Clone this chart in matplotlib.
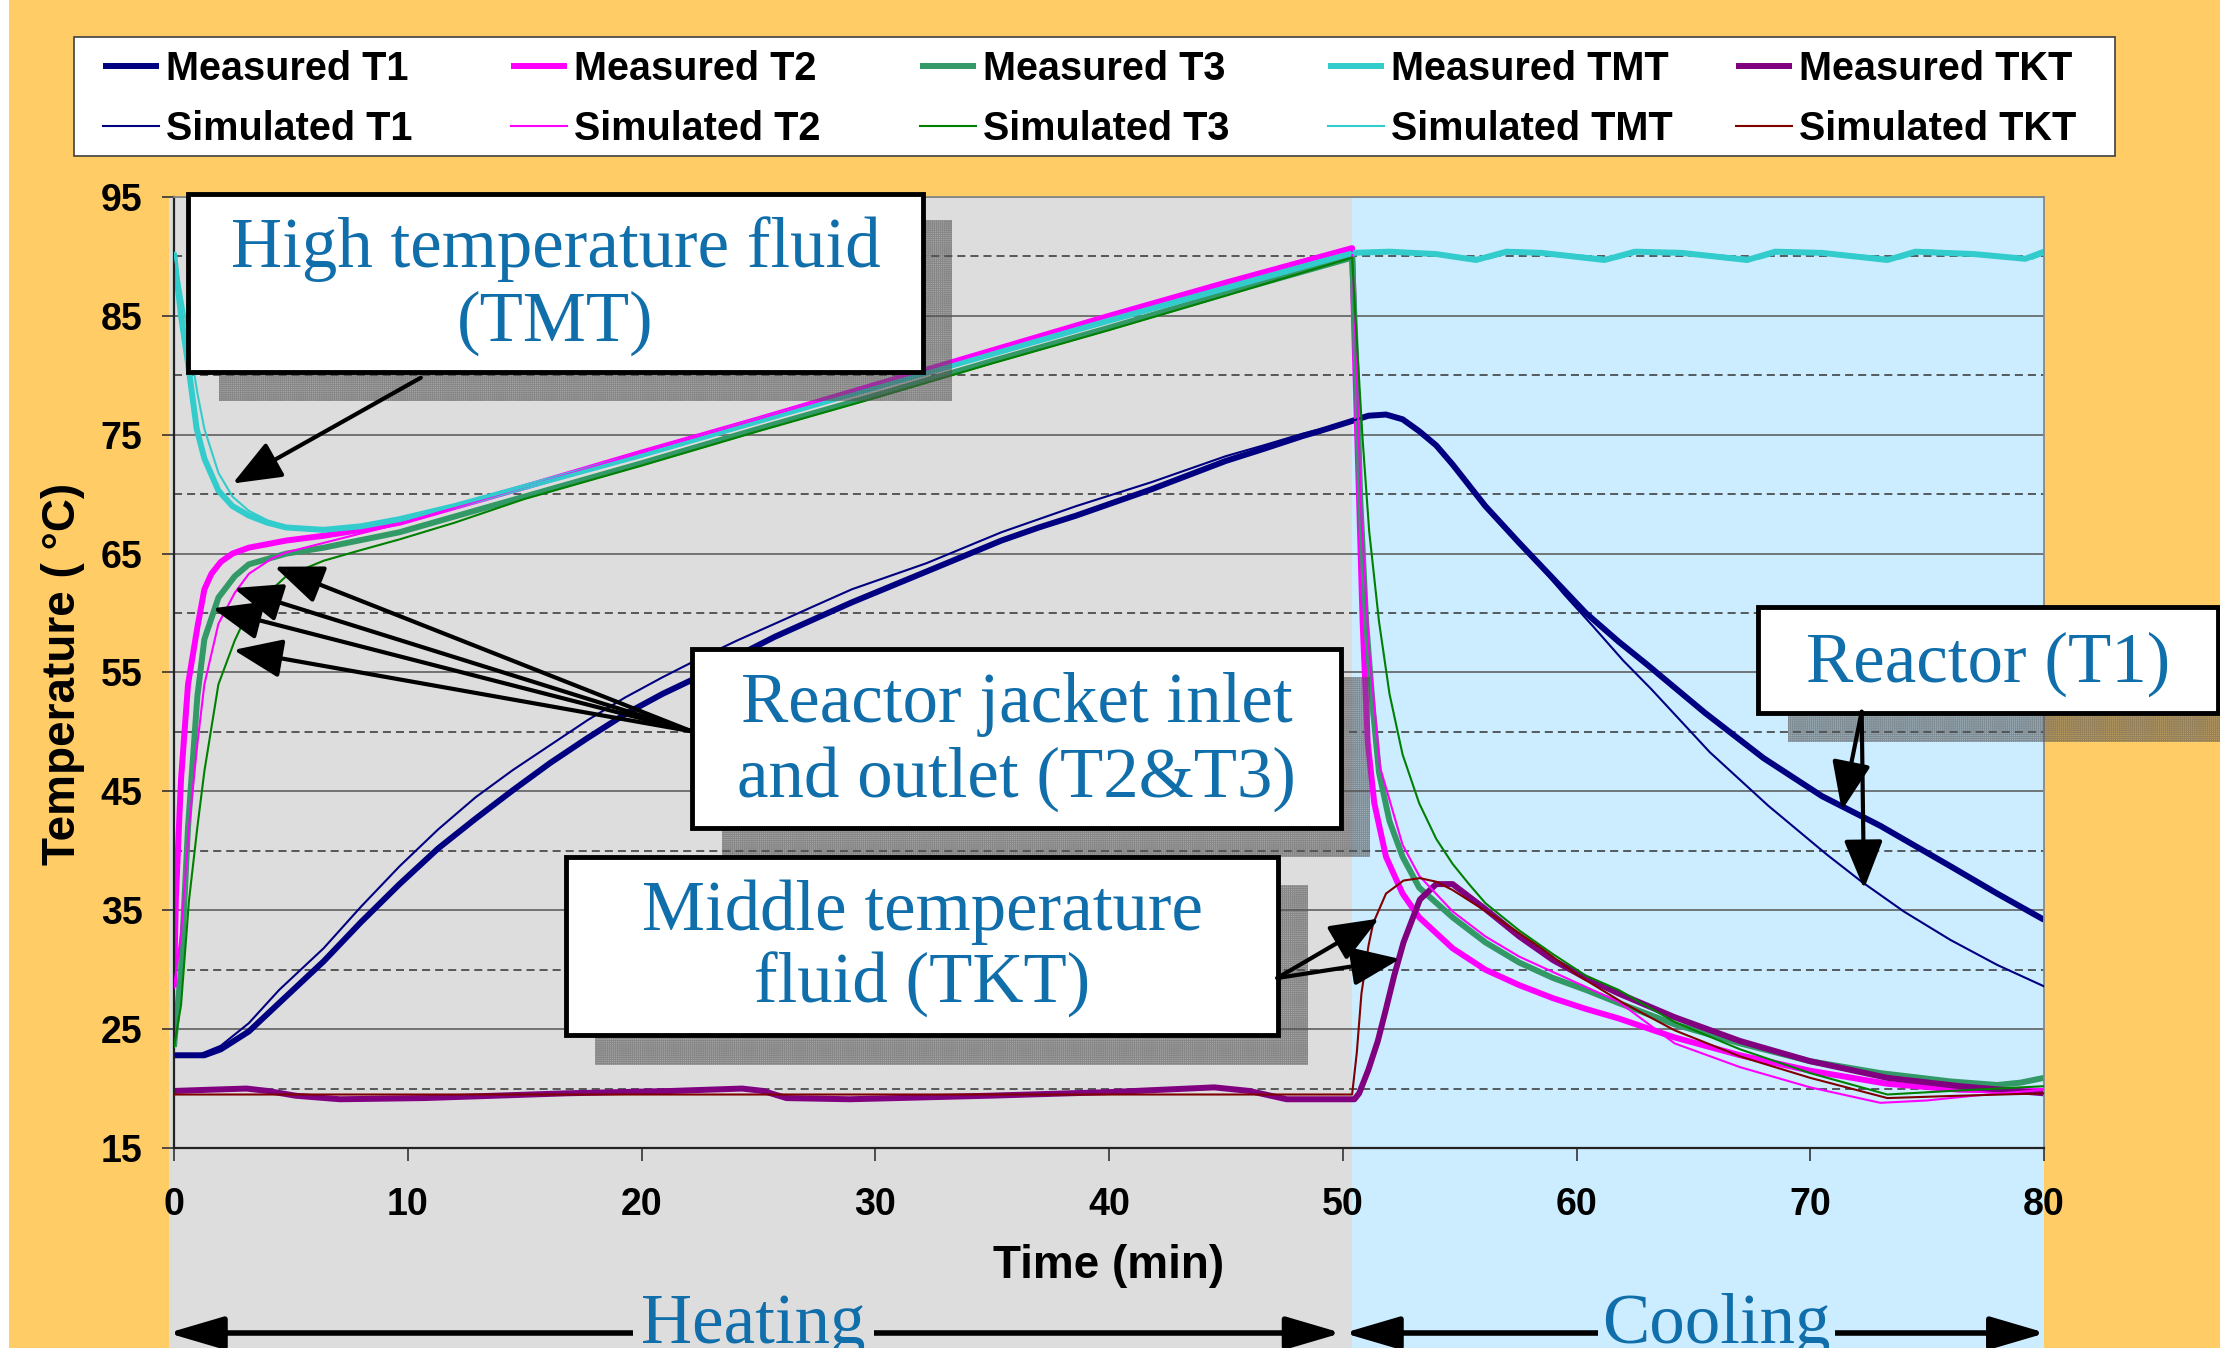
import matplotlib
matplotlib.use("Agg")
import matplotlib.pyplot as plt
from matplotlib.patches import Rectangle, ArrowStyle
from matplotlib.transforms import blended_transform_factory
from matplotlib.font_manager import FontProperties
from matplotlib.ticker import MultipleLocator, FixedLocator

plt.rcParams['font.family'] = ['Liberation Sans', 'DejaVu Sans']
plt.rcParams['font.weight'] = 'bold'
plt.rcParams['lines.scale_dashes'] = False
plt.rcParams['hatch.linewidth'] = 0.6

# ---------------- data ----------------
t1_meas_t = [0, 1.3, 2.0, 3.2, 4.5, 6.4, 8.0, 9.65, 11.3, 12.9, 14.5, 16.1, 17.7, 19.3, 20.9, 22.5,
             24.1, 25.7, 27.4, 29.0, 30.6, 32.2, 33.8, 35.4, 37.0, 38.6, 40.2, 41.8, 43.4, 45.0, 46.6,
             48.3, 49.0, 50.3, 51.1, 51.85, 52.56, 53.27, 54.0, 54.7, 56.1, 57.55, 59.0, 60.4, 61.8,
             63.0, 65.5, 68.0, 70.5, 73.0, 76.0, 78.0, 80.0]
t1_meas_v = [22.8, 22.8, 23.3, 24.8, 27.2, 30.7, 34.0, 37.2, 40.2, 42.7, 45.1, 47.4, 49.5, 51.5, 53.2, 54.7,
             56.4, 58.0, 59.5, 60.9, 62.2, 63.5, 64.8, 66.1, 67.2, 68.2, 69.3, 70.4, 71.6, 72.8, 73.8,
             74.9, 75.3, 76.1, 76.6, 76.7, 76.3, 75.3, 74.1, 72.5, 69.0, 65.9, 62.9, 60.0, 57.6,
             55.7, 51.6, 47.8, 44.6, 42.1, 38.7, 36.4, 34.2]

t1_sim_t = [0, 1.0, 2.0, 3.2, 4.5, 6.4, 8.0, 9.65, 11.3, 12.9, 14.5, 16.1, 17.7, 19.3, 20.9, 22.5, 24.1,
            25.7, 27.4, 29.0, 30.6, 32.2, 33.8, 35.4, 37.0, 38.6, 40.2, 41.8, 43.4, 45.0, 46.6, 48.3,
            50.3, 51.1, 51.85, 52.56, 53.27, 54.0, 54.7, 56.1, 57.55, 58.5, 59.5, 60.7, 62.0, 63.2,
            65.7, 68.2, 70.7, 72.2, 74.0, 76.0, 78.0, 80.0]
t1_sim_v = [22.8, 22.8, 23.6, 25.5, 28.3, 31.8, 35.3, 38.7, 41.8, 44.5, 46.8, 48.9, 51.0, 52.9, 54.6, 56.2,
            57.7, 59.1, 60.6, 62.0, 63.1, 64.2, 65.5, 66.8, 67.9, 69.0, 70.0, 71.0, 72.1, 73.2, 74.1,
            75.1, 76.1, 76.6, 76.7, 76.3, 75.3, 74.1, 72.5, 69.0, 65.9, 63.8, 61.5, 58.9, 56.0, 53.6,
            48.3, 43.8, 39.7, 37.4, 34.9, 32.5, 30.4, 28.6]

t2_meas_t = [0, 0.08, 0.3, 0.6, 1.0, 1.3, 1.6, 2.0, 2.5, 3.2, 4.8, 6.4, 8.0, 9.65, 15, 20, 25, 30, 35,
             40, 45, 50.4, 50.55, 50.7, 50.85, 51.07, 51.35, 51.85, 52.56, 53.27, 54.7, 56.1, 57.55,
             59.0, 60.4, 61.8, 64.2, 67.0, 70.0, 73.3, 76.4, 80.0]
t2_meas_v = [28.5, 36.0, 46.0, 54.0, 58.8, 62.0, 63.3, 64.3, 65.0, 65.5, 66.1, 66.5, 67.0, 67.6, 70.6,
             73.5, 76.3, 79.2, 82.1, 85.0, 87.8, 90.7, 79.7, 69.5, 59.3, 49.1, 44.0, 39.5, 36.4, 34.4,
             31.8, 30.0, 28.7, 27.6, 26.7, 25.9, 24.3, 22.8, 21.5, 20.4, 19.9, 19.8]

t2_sim_t = [0, 0.3, 0.64, 1.0, 1.3, 1.9, 2.6, 3.2, 4.2, 4.8, 6.4, 8.0, 9.65, 15, 20, 25, 30, 35, 40, 45,
            50.4, 50.6, 50.8, 51.13, 51.6, 52.56, 53.27, 54.7, 56.1, 57.55, 59.0, 61.8, 64.2, 67.0,
            70.0, 73.0, 75.0, 77.0, 80.0]
t2_sim_v = [28.5, 33.0, 42.0, 49.0, 54.0, 59.1, 61.7, 63.3, 64.6, 65.1, 65.9, 66.7, 67.5, 70.6, 73.5,
            76.3, 79.2, 82.1, 85.0, 87.8, 90.6, 80.0, 68.0, 56.8, 47.0, 40.5, 37.9, 34.9, 32.8, 31.1,
            29.8, 27.3, 23.8, 21.8, 20.1, 18.8, 19.0, 19.4, 19.9]

t3_meas_t = [0, 0.3, 0.6, 1.0, 1.3, 1.9, 2.6, 3.2, 4.8, 6.4, 9.65, 15, 20, 25, 30, 35, 40, 45, 50.4,
             50.6, 50.75, 51.0, 51.3, 51.55, 52.0, 52.56, 53.27, 54.7, 56.1, 57.55, 59.0, 60.4, 61.8,
             64.2, 67.0, 70.0, 73.0, 76.0, 78.0, 79.0, 80.0]
t3_meas_v = [23.5, 30.0, 42.0, 53.0, 57.8, 61.3, 63.1, 64.1, 65.0, 65.5, 66.8, 69.8, 72.6, 75.5, 78.3,
             81.2, 84.0, 86.9, 89.9, 79.7, 69.5, 59.3, 51.7, 46.6, 42.5, 39.5, 36.9, 34.4, 32.3, 30.6,
             29.3, 28.3, 27.2, 25.4, 23.8, 22.3, 21.3, 20.6, 20.3, 20.5, 20.9]

t3_sim_t = [0, 0.3, 0.64, 1.0, 1.3, 1.9, 2.6, 3.2, 4.8, 6.4, 8.0, 9.65, 12.0, 15, 20, 25, 30, 35, 40, 45,
            50.4, 50.55, 50.85, 51.13, 51.55, 52.0, 52.56, 53.27, 54.0, 54.7, 55.4, 56.1, 57.55, 59.0,
            60.4, 61.8, 64.2, 67.0, 70.0, 73.3, 76.0, 80.0]
t3_sim_v = [23.5, 27.0, 35.8, 42.0, 46.7, 54.0, 57.7, 60.2, 63.1, 64.4, 65.3, 66.2, 67.6, 69.6, 72.4,
            75.3, 78.1, 81.0, 83.8, 86.7, 89.9, 84.7, 74.6, 66.9, 59.3, 53.2, 48.1, 44.0, 41.0, 38.9,
            37.2, 35.6, 33.3, 31.3, 29.5, 28.3, 25.6, 23.3, 21.3, 19.5, 19.8, 20.2]

tmt_meas_t = [0, 0.3, 0.6, 0.97, 1.3, 1.9, 2.5, 3.2, 4.0, 4.8, 6.4, 8.0, 9.65, 12, 20, 30, 40, 50.4, 52,
              54, 55.7, 57.0, 58.5, 61.2, 62.5, 64.5, 67.3, 68.5, 70.5, 73.3, 74.5, 77, 79.2, 80]
tmt_meas_v = [90.3, 85.0, 81.0, 75.5, 73.0, 70.3, 69.0, 68.2, 67.6, 67.2, 67.0, 67.3, 67.9, 69.0, 73.3,
              79.0, 84.6, 90.3, 90.4, 90.2, 89.7, 90.4, 90.3, 89.7, 90.4, 90.3, 89.7, 90.4, 90.3, 89.7,
              90.4, 90.2, 89.8, 90.4]

tmt_sim_t = [0, 0.3, 0.6, 1.0, 1.3, 1.9, 2.5, 3.2, 4.0, 4.8, 6.4, 8.0, 9.65, 12, 20, 30, 40, 50.4, 52,
             54.5, 56.2, 57.5, 59.5, 61.7, 63, 65.5, 67.8, 69, 71.5, 73.8, 75, 77.5, 79.5, 80]
tmt_sim_v = [90.3, 87.0, 83.5, 78.5, 75.5, 71.8, 69.8, 68.6, 67.8, 67.3, 67.0, 67.3, 67.9, 69.0, 73.3,
             79.0, 84.6, 90.3, 90.4, 90.1, 89.8, 90.5, 90.2, 89.8, 90.5, 90.2, 89.8, 90.5, 90.2, 89.8,
             90.5, 90.2, 89.8, 90.2]

tkt_meas_t = [0, 1.5, 3.1, 4.0, 5.2, 7.1, 10.7, 16.8, 21.3, 24.3, 25.2, 26.2, 28.9, 34.9, 40.0, 44.5,
              46.0, 47.6, 50.5, 50.7, 51.1, 51.5, 51.85, 52.2, 52.6, 53.3, 54.0, 54.7, 56.1, 57.55,
              59.0, 60.4, 61.8, 64.2, 67.0, 70.0, 73.3, 76.4, 80.0]
tkt_meas_v = [19.8, 19.9, 20.0, 19.8, 19.4, 19.1, 19.2, 19.6, 19.8, 20.0, 19.8, 19.2, 19.1, 19.4, 19.7,
              20.1, 19.8, 19.1, 19.1, 19.6, 21.6, 24.0, 26.7, 29.5, 32.3, 35.9, 37.2, 37.2, 35.1, 32.8,
              30.8, 29.3, 28.0, 26.0, 24.0, 22.3, 20.9, 20.2, 19.6]

tkt_sim_t = [0, 50.4, 50.6, 50.8, 51.1, 51.3, 51.85, 52.6, 53.3, 54.0, 54.7, 56.7, 58.5, 60.0, 62.0,
             64.2, 67.0, 70.0, 73.3, 76.4, 80.0]
tkt_sim_v = [19.5, 19.5, 23.0, 28.0, 32.0, 33.9, 36.4, 37.5, 37.7, 37.4, 36.7, 34.2, 31.8, 29.6, 27.2,
             24.9, 22.7, 20.9, 19.2, 19.4, 19.6]

series_names = ["T1", "T2", "T3", "TMT", "TKT"]
meas_colors = ['#000080', '#FF00FF', '#339966', '#33CCCC', '#800080']
sim_colors = ['#000080', '#FF00FF', '#008000', '#33CCCC', '#800000']
meas_data = [(t1_meas_t, t1_meas_v), (t2_meas_t, t2_meas_v), (t3_meas_t, t3_meas_v),
             (tmt_meas_t, tmt_meas_v), (tkt_meas_t, tkt_meas_v)]
sim_data = [(t1_sim_t, t1_sim_v), (t2_sim_t, t2_sim_v), (t3_sim_t, t3_sim_v),
            (tmt_sim_t, tmt_sim_v), (tkt_sim_t, tkt_sim_v)]

y_major = [15, 25, 35, 45, 55, 65, 75, 85, 95]
y_minor = [20, 30, 40, 50, 60, 70, 80, 90]

# ---------------- figure ----------------
W, H = 2220, 1348
fig = plt.figure(figsize=(W / 100, H / 100), dpi=100, facecolor='#FFCC66')


def fx(x):
    return x / W


def fy(y):
    return 1 - y / H


fig.add_artist(Rectangle((0, 0), fx(9), 1, transform=fig.transFigure, facecolor='white',
                         edgecolor='none', zorder=0))

ax = fig.add_axes([fx(174), fy(1148), (2044 - 174) / W, (1148 - 197) / H])
ax.set_facecolor('none')
ax.set_xlim(0, 80)
ax.set_ylim(15, 95)
ax.set_axisbelow(True)

trans = blended_transform_factory(ax.transData, ax.transAxes)
GRAY = '#DDDDDD'
BLUE = '#CCECFF'
ax.add_artist(Rectangle((-0.22, -0.3), 50.62, 1.3, transform=trans, facecolor=GRAY,
                        edgecolor='none', zorder=0.1, clip_on=False))
ax.add_artist(Rectangle((50.4, -0.3), 29.6, 1.3, transform=trans, facecolor=BLUE,
                        edgecolor='none', zorder=0.1, clip_on=False))

meas_lines, sim_lines = [], []
for (tt, vv), c in zip(meas_data, meas_colors):
    ln, = ax.plot(tt, vv, color=c, lw=4.3, zorder=2, solid_joinstyle='round',
                  solid_capstyle='butt')
    meas_lines.append(ln)
for (tt, vv), c in zip(sim_data, sim_colors):
    ln, = ax.plot(tt, vv, color=c, lw=1.5, zorder=3, solid_joinstyle='round')
    sim_lines.append(ln)

# axes styling
ax.yaxis.set_major_locator(FixedLocator(y_major))
ax.yaxis.set_minor_locator(FixedLocator(y_minor))
ax.xaxis.set_major_locator(MultipleLocator(10))
ax.tick_params(axis='y', which='major', direction='out', length=8.6, width=1.2, pad=14,
               labelsize=27, color='#333333')
ax.tick_params(axis='y', which='minor', length=0)
ax.tick_params(axis='x', which='major', direction='out', length=9.4, width=1.2, pad=19,
               labelsize=27, color='#333333')
ax.grid(axis='y', which='major', color='#555555', lw=1.1, ls='-')
ax.grid(axis='y', which='minor', color='#333333', lw=1.1, ls=(0, (5.8, 3.6)))
for s in ['left', 'bottom']:
    ax.spines[s].set_color('#222222')
    ax.spines[s].set_linewidth(1.6)
for s in ['top', 'right']:
    ax.spines[s].set_color('#888888')
    ax.spines[s].set_linewidth(1.3)

ax.set_xlabel('Time (min)', fontsize=33, fontweight='bold')
ax.xaxis.set_label_coords(0.5, -0.101)
ax.set_ylabel('Temperature ( °C)', fontsize=33, fontweight='bold')
ax.yaxis.set_label_coords(-0.0476, 0.498)

# legend: frame + five columns
fig.add_artist(Rectangle((fx(74), fy(156)), (2115 - 74) / W, (156 - 37) / H,
                         transform=fig.transFigure, facecolor='white', edgecolor='#404040',
                         lw=1.2, zorder=1))
leg_font = FontProperties(family='Liberation Sans', weight='bold', size=28.5)
col_x = [103, 511, 920, 1328, 1736]
for i, name in enumerate(series_names):
    fig.legend([meas_lines[i], sim_lines[i]], ['Measured ' + name, 'Simulated ' + name],
               loc='upper left', bbox_to_anchor=(fx(col_x[i]), fy(50)), frameon=False,
               borderpad=0, borderaxespad=0, handlelength=1.42, handletextpad=0.18,
               labelspacing=0.55, prop=leg_font)

# annotation boxes
serif = FontProperties(family='Liberation Serif', weight='normal', size=51)
TXT = '#106EAA'


def add_rect(x0, y0, x1, y1, **kw):
    r = Rectangle((fx(x0), fy(y1)), (x1 - x0) / W, (y1 - y0) / H, transform=fig.transFigure,
                  clip_on=False, **kw)
    ax.add_artist(r)


def add_box(box, shadow, lines):
    add_rect(*shadow, facecolor=(0.35, 0.35, 0.35, 0.42), edgecolor=(0.3, 0.3, 0.3, 0.35),
             hatch='++++++++', lw=0, zorder=5)
    add_rect(*box, facecolor='white', edgecolor='black', lw=3.5, zorder=6)
    cx = (box[0] + box[2]) / 2
    for s, by in lines:
        ax.text(fx(cx), fy(by), s, transform=fig.transFigure, ha='center', va='baseline',
                fontproperties=serif, color=TXT, zorder=7, clip_on=False)


add_box((188, 194, 923, 372), (219, 220, 952, 401),
        [('High temperature fluid', 267), ('(TMT)', 341)])
add_box((692, 649, 1341, 828), (722, 677, 1370, 857),
        [('Reactor jacket inlet', 722), ('and outlet (T2&T3)', 797)])
add_box((566, 857, 1278, 1035), (595, 885, 1308, 1065),
        [('Middle temperature', 930), ('fluid (TKT)', 1003)])
add_box((1758, 607, 2218, 713), (1788, 637, 2222, 742),
        [('Reactor (T1)', 682)])

arrow_style = ArrowStyle('-|>', head_length=0.75, head_width=0.3)


def arrow(start, tip):
    ax.annotate('', xy=tip, xytext=start, xycoords='data', textcoords='data',
                arrowprops=dict(arrowstyle=arrow_style, mutation_scale=40, lw=3, color='black',
                                shrinkA=0, shrinkB=0),
                zorder=8, annotation_clip=False)


arrow((10.56, 79.8), (2.51, 70.9))
for tip in [(4.3, 63.9), (2.55, 62.1), (1.65, 60.4), (2.55, 56.9)]:
    arrow((22.15, 50.05), tip)
for tip in [(51.55, 34.3), (52.45, 30.9)]:
    arrow((47.2, 29.3), tip)
for tip in [(71.35, 43.4), (72.3, 36.8)]:
    arrow((72.2, 51.7), tip)

# Heating / Cooling arrows below the axis
yb = (1148 - 1333) / 951
yt = (1148 - 1343) / 951
big_style = ArrowStyle('<|-|>', head_length=0.85, head_width=0.25)
for x0, x1 in [(-0.26, 49.95), (50.05, 80.08)]:
    ax.annotate('', xy=(x0, yb), xytext=(x1, yb), xycoords=trans, textcoords=trans,
                arrowprops=dict(arrowstyle=big_style, mutation_scale=40, lw=4, color='black',
                                shrinkA=0, shrinkB=0),
                zorder=8, annotation_clip=False)
ax.text(24.8, yt, 'Heating', transform=trans, ha='center', va='baseline', fontproperties=serif,
        color=TXT, zorder=9, clip_on=False,
        bbox=dict(boxstyle='square,pad=0.12', fc=GRAY, ec='none'))
ax.text(66.0, yt, 'Cooling', transform=trans, ha='center', va='baseline', fontproperties=serif,
        color=TXT, zorder=9, clip_on=False,
        bbox=dict(boxstyle='square,pad=0.06', fc=BLUE, ec='none'))

fig.savefig('out.png', dpi=100, facecolor=fig.get_facecolor())
